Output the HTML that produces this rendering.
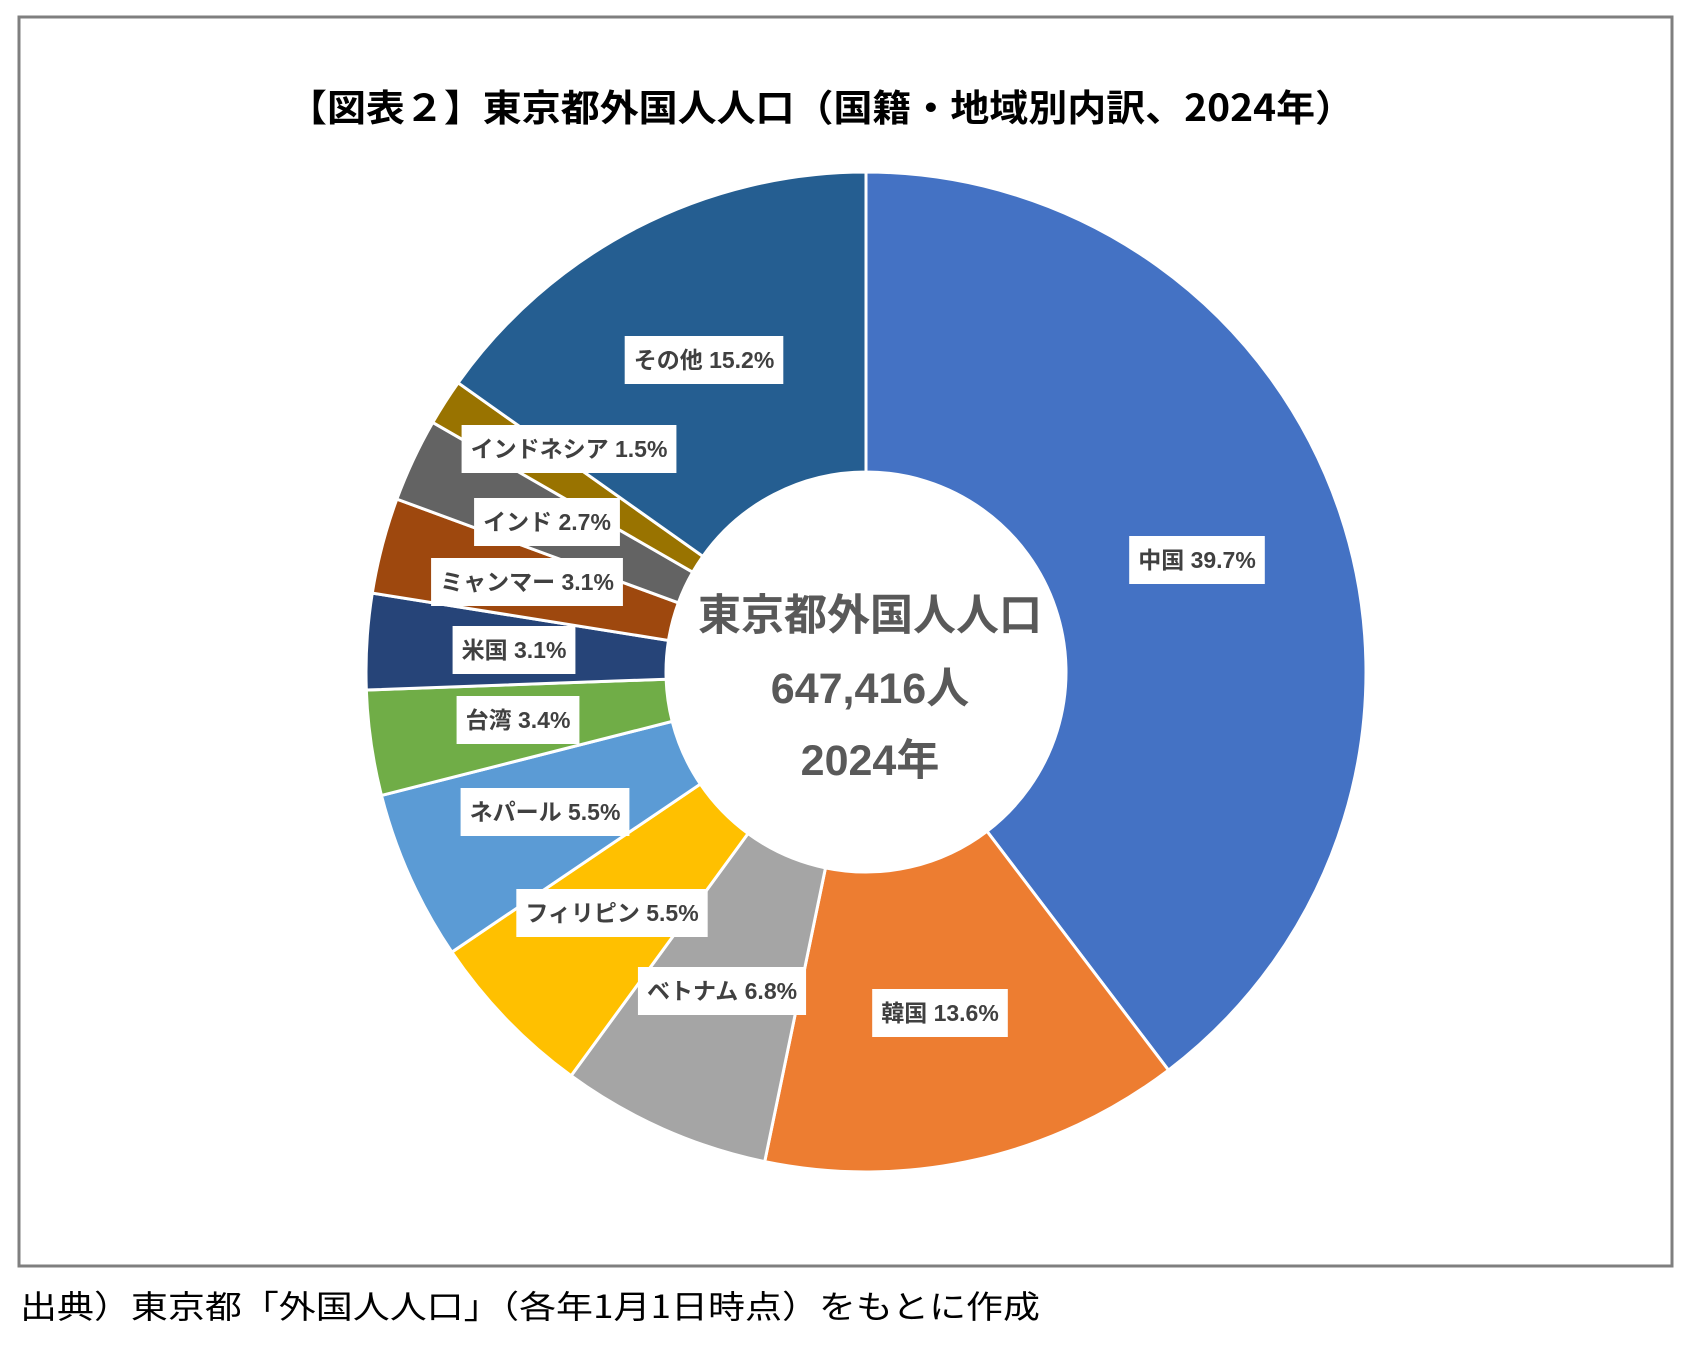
<!DOCTYPE html>
<html><head><meta charset="utf-8"><style>
html,body{margin:0;padding:0;background:#fff;}
body{width:1698px;height:1350px;overflow:hidden;}
text{font-family:"Liberation Sans","Noto Sans CJK JP",sans-serif;}
</style></head><body>
<svg id="s" width="1698" height="1350" viewBox="0 0 1698 1350" xmlns="http://www.w3.org/2000/svg">
<rect x="19" y="17" width="1653" height="1249" fill="#fff" stroke="#7f7f7f" stroke-width="3"/>
<text x="288" y="121" textLength="1066" lengthAdjust="spacingAndGlyphs" font-size="37" font-weight="bold" fill="#000" style="font-family:'Noto Sans CJK JP',sans-serif">【図表２】東京都外国人人口（国籍・地域別内訳、2024年）</text>
<g id="pie"></g>
<g id="labels"></g>
<text x="870" y="630" text-anchor="middle" font-size="43" font-weight="bold" fill="#595959">東京都外国人人口</text>
<text x="870" y="703" text-anchor="middle" font-size="43" font-weight="bold" fill="#595959">647,416人</text>
<text x="870" y="775" text-anchor="middle" font-size="43" font-weight="bold" fill="#595959">2024年</text>
<text x="20" y="1318" font-size="32" fill="#000" textLength="1020" lengthAdjust="spacingAndGlyphs" style="font-family:'Noto Sans CJK JP',sans-serif">出典）東京都「外国人人口」（各年1月1日時点）をもとに作成</text>
</svg>
<script>
var cx=866,cy=672,R=500,r=200;
var d=[["中国",39.7,"#4472C4",1197,560],["韓国",13.6,"#ED7D31",940,1013],["ベトナム",6.8,"#A5A5A5",722,991],["フィリピン",5.5,"#FFC000",612,913],["ネパール",5.5,"#5B9BD5",545,812],["台湾",3.4,"#70AD47",518,720],["米国",3.1,"#264478",514,650],["ミャンマー",3.1,"#9E480E",527,582],["インド",2.7,"#636363",547,522],["インドネシア",1.5,"#997300",569,449],["その他",15.2,"#255E91",704,360]];
var tot=0;d.forEach(function(e){tot+=e[1];});
var a=0,pie=document.getElementById("pie"),lab=document.getElementById("labels"),ns="http://www.w3.org/2000/svg";
function pt(rad,ang){return [cx+rad*Math.sin(ang),cy-rad*Math.cos(ang)];}
d.forEach(function(e){
 var a0=a/tot*2*Math.PI;a+=e[1];var a1=a/tot*2*Math.PI;var lg=(a1-a0)>Math.PI?1:0;
 var p0=pt(R,a0),p1=pt(R,a1),q1=pt(r,a1),q0=pt(r,a0);
 var p=document.createElementNS(ns,"path");
 p.setAttribute("d","M"+p0+"A"+R+","+R+" 0 "+lg+" 1 "+p1+"L"+q1+"A"+r+","+r+" 0 "+lg+" 0 "+q0+"Z");
 p.setAttribute("fill",e[2]);p.setAttribute("stroke","#fff");p.setAttribute("stroke-width","3");
 pie.appendChild(p);
 var t=document.createElementNS(ns,"text");
 t.setAttribute("x",e[3]);t.setAttribute("y",e[4]+8);t.setAttribute("text-anchor","middle");
 t.setAttribute("font-size","23");t.setAttribute("font-weight","bold");t.setAttribute("fill","#404040");
 t.textContent=e[0]+" "+e[1].toFixed(1)+"%";
 lab.appendChild(t);
 var b=t.getBBox();
 var rc=document.createElementNS(ns,"rect");
 rc.setAttribute("x",b.x-9);rc.setAttribute("y",e[4]-24);rc.setAttribute("width",b.width+18);rc.setAttribute("height",48);rc.setAttribute("fill","#fff");
 lab.insertBefore(rc,t);
});
</script>
</body></html>
